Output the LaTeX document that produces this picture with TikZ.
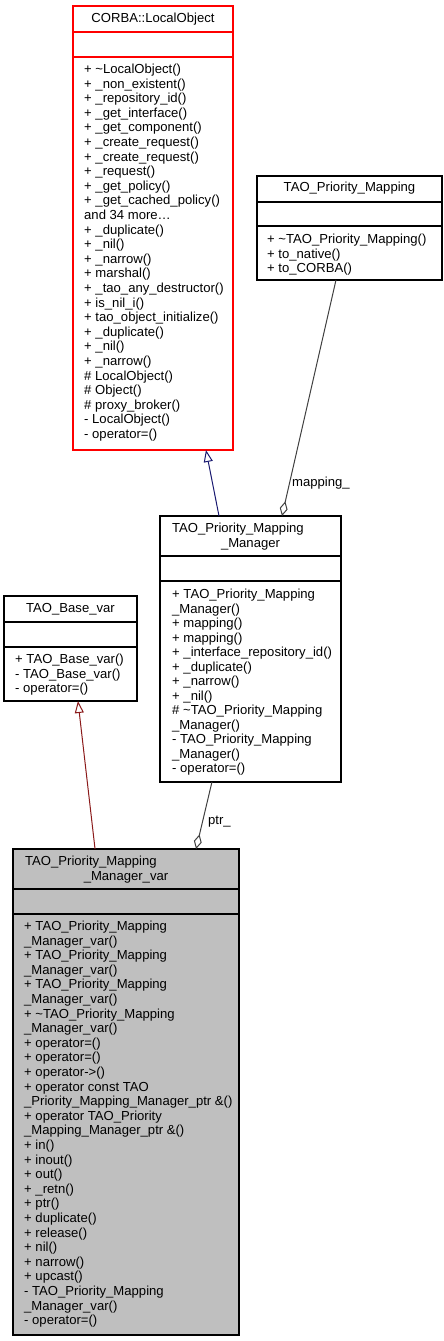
\documentclass[tikz,border=0pt]{standalone}
\usepackage{fontspec}
\setmainfont{Liberation Sans}
\usetikzlibrary{arrows.meta,calc}
\definecolor{edgeblue}{HTML}{191970}
\definecolor{edgered}{HTML}{8B1A1A}
\definecolor{edgegrey}{HTML}{404040}
\definecolor{boxgrey}{HTML}{BFBFBF}
\definecolor{boxred}{HTML}{FF0000}
\begin{document}
\begin{tikzpicture}[x=1pt,y=-1pt,
  classbox/.style={draw=black, line width=1.2pt, inner sep=0pt, outer sep=0pt, anchor=north west},
  sepline/.style={line width=1.2pt},
  txt/.style={font=\fontsize{13.1}{14.6}\selectfont, inner sep=0pt, anchor=base west},
  ttl/.style={font=\fontsize{13.1}{14.6}\selectfont, inner sep=0pt, anchor=base},
  lbl/.style={font=\fontsize{13.1}{14.6}\selectfont, inner sep=0pt, anchor=west},
  inherit/.style={line width=1pt, -{Triangle[open,length=12pt,width=9pt]}},
  aggreg/.style={line width=1pt, draw=edgegrey, {Diamond[open,length=15pt,width=8pt]}-}]
\useasboundingbox (0,0) rectangle (444,1341);

% ---------- CORBA::LocalObject ----------
\node[classbox, draw=boxred, minimum width=160pt, minimum height=444pt] (corba) at (73,6) {};
\draw[sepline, boxred] ($(corba.north west)+(0,26)$) -- ($(corba.north east)+(0,26)$);
\draw[sepline, boxred] ($(corba.north west)+(0,51)$) -- ($(corba.north east)+(0,51)$);
\node[ttl] (corbaT) at (153,22.5) {CORBA::LocalObject};
\foreach \t [count=\i from 0] in {
  {+ \textasciitilde LocalObject()},
  {+ \_non\_existent()},
  {+ \_repository\_id()},
  {+ \_get\_interface()},
  {+ \_get\_component()},
  {+ \_create\_request()},
  {+ \_create\_request()},
  {+ \_request()},
  {+ \_get\_policy()},
  {+ \_get\_cached\_policy()},
  {and 34 more\ldots},
  {+ \_duplicate()},
  {+ \_nil()},
  {+ \_narrow()},
  {+ marshal()},
  {+ \_tao\_any\_destructor()},
  {+ is\_nil\_i()},
  {+ tao\_object\_initialize()},
  {+ \_duplicate()},
  {+ \_nil()},
  {+ \_narrow()},
  {\# LocalObject()},
  {\# Object()},
  {\# proxy\_broker()},
  {- LocalObject()},
  {- operator=()}}
  \node[txt] (corbaM\i) at (84,{73.5+14.6*\i}) {\t};

% ---------- TAO_Priority_Mapping ----------
\node[classbox, minimum width=185pt, minimum height=104pt] (tpm) at (257,176) {};
\draw[sepline] ($(tpm.north west)+(0,26)$) -- ($(tpm.north east)+(0,26)$);
\draw[sepline] ($(tpm.north west)+(0,50)$) -- ($(tpm.north east)+(0,50)$);
\node[ttl] (tpmT) at (349.5,191.5) {TAO\_Priority\_Mapping};
\foreach \t [count=\i from 0] in {
  {+ \textasciitilde TAO\_Priority\_Mapping()},
  {+ to\_native()},
  {+ to\_CORBA()}}
  \node[txt] (tpmM\i) at (267,{243.5+14.5*\i}) {\t};

% ---------- TAO_Priority_Mapping_Manager ----------
\node[classbox, minimum width=181pt, minimum height=266pt] (mgr) at (160,516) {};
\draw[sepline] ($(mgr.north west)+(0,40)$) -- ($(mgr.north east)+(0,40)$);
\draw[sepline] ($(mgr.north west)+(0,65)$) -- ($(mgr.north east)+(0,65)$);
\node[txt] (mgrT1) at (172,532.5) {TAO\_Priority\_Mapping};
\node[ttl] (mgrT2) at (250.5,547) {\_Manager};
\foreach \t [count=\i from 0] in {
  {+ TAO\_Priority\_Mapping},
  {\_Manager()},
  {+ mapping()},
  {+ mapping()},
  {+ \_interface\_repository\_id()},
  {+ \_duplicate()},
  {+ \_narrow()},
  {+ \_nil()},
  {\# \textasciitilde TAO\_Priority\_Mapping},
  {\_Manager()},
  {- TAO\_Priority\_Mapping},
  {\_Manager()},
  {- operator=()}}
  \node[txt] (mgrM\i) at (172,{598.5+14.5*\i}) {\t};

% ---------- TAO_Base_var ----------
\node[classbox, minimum width=133pt, minimum height=105pt] (basevar) at (4,596) {};
\draw[sepline] ($(basevar.north west)+(0,26)$) -- ($(basevar.north east)+(0,26)$);
\draw[sepline] ($(basevar.north west)+(0,51)$) -- ($(basevar.north east)+(0,51)$);
\node[ttl] (basevarT) at (70.5,612.5) {TAO\_Base\_var};
\foreach \t [count=\i from 0] in {
  {+ TAO\_Base\_var()},
  {- TAO\_Base\_var()},
  {- operator=()}}
  \node[txt] (basevarM\i) at (15,{663.5+14.5*\i}) {\t};

% ---------- TAO_Priority_Mapping_Manager_var ----------
\node[classbox, fill=boxgrey, minimum width=226pt, minimum height=486pt] (var) at (13,849) {};
\draw[sepline] ($(var.north west)+(0,40)$) -- ($(var.north east)+(0,40)$);
\draw[sepline] ($(var.north west)+(0,65)$) -- ($(var.north east)+(0,65)$);
\node[txt] (varT1) at (25,865.5) {TAO\_Priority\_Mapping};
\node[ttl] (varT2) at (126,880) {\_Manager\_var};
\foreach \t [count=\i from 0] in {
  {+ TAO\_Priority\_Mapping},
  {\_Manager\_var()},
  {+ TAO\_Priority\_Mapping},
  {\_Manager\_var()},
  {+ TAO\_Priority\_Mapping},
  {\_Manager\_var()},
  {+ \textasciitilde TAO\_Priority\_Mapping},
  {\_Manager\_var()},
  {+ operator=()},
  {+ operator=()},
  {+ operator->()},
  {+ operator const TAO},
  {\_Priority\_Mapping\_Manager\_ptr \&()},
  {+ operator TAO\_Priority},
  {\_Mapping\_Manager\_ptr \&()},
  {+ in()},
  {+ inout()},
  {+ out()},
  {+ \_retn()},
  {+ ptr()},
  {+ duplicate()},
  {+ release()},
  {+ nil()},
  {+ narrow()},
  {+ upcast()},
  {- TAO\_Priority\_Mapping},
  {\_Manager\_var()},
  {- operator=()}}
  \node[txt] (varM\i) at (24,{930.5+14.6*\i}) {\t};

% ---------- connectors ----------
\coordinate (mgrTopA) at ($(mgr.north west)!0.326!(mgr.north east)$);
\coordinate (corbaBot) at ($(corba.south west)!0.831!(corba.south east)$);
\draw[inherit, edgeblue] (mgrTopA) -- (corbaBot);

\coordinate (mgrTopB) at ($(mgr.north west)!0.674!(mgr.north east)$);
\coordinate (tpmBot) at ($(tpm.south west)!0.427!(tpm.south east)$);
\draw[aggreg] (mgrTopB) -- (tpmBot);
\node[lbl] (lblMapping) at (292,483) {mapping\_};

\coordinate (varTopA) at ($(var.north west)!0.363!(var.north east)$);
\coordinate (basevarBot) at ($(basevar.south west)!0.556!(basevar.south east)$);
\draw[inherit, edgered] (varTopA) -- (basevarBot);

\coordinate (varTopB) at ($(var.north west)!0.81!(var.north east)$);
\coordinate (mgrBot) at ($(mgr.south west)!0.287!(mgr.south east)$);
\draw[aggreg] (varTopB) -- (mgrBot);
\node[lbl] (lblPtr) at (208,822) {ptr\_};
\end{tikzpicture}
\end{document}
